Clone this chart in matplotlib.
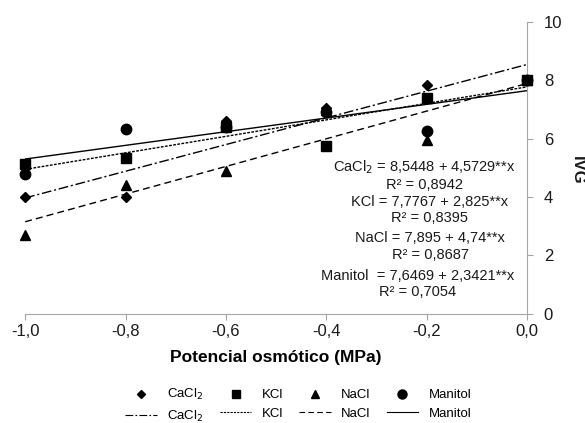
import numpy as np
import matplotlib
matplotlib.use('Agg')
import matplotlib.pyplot as plt
from matplotlib.lines import Line2D

plt.rcParams['font.family'] = ['Liberation Sans', 'DejaVu Sans']

##### data #####

potencial = [-1.0, -0.8, -0.6, -0.4, -0.2, 0.0]

ivg_cacl2 = [4.0, 4.0, 6.6, 7.05, 7.85, 8.0]
ivg_kcl = [5.15, 5.35, 6.4, 5.75, 7.4, 8.0]
ivg_nacl = [2.7, 4.4, 4.9, 7.0, 5.95, 8.0]
ivg_manitol = [4.8, 6.35, 6.4, 6.9, 6.25, 8.0]

# regression coefficients printed on the chart (y = a + b*x)
intercepts = [8.5448, 7.7767, 7.895, 7.6469]
slopes = [4.5729, 2.825, 4.74, 2.3421]
r2_values = ['0,8942', '0,8395', '0,8687', '0,7054']

series_names = ['CaCl$_2$', 'KCl', 'NaCl', 'Manitol']
equation_names = ['CaCl$_2$', 'KCl', 'NaCl', 'Manitol ']

xtick_values = [-1.0, -0.8, -0.6, -0.4, -0.2, 0.0]
xtick_labels = ['-1,0', '-0,8', '-0,6', '-0,4', '-0,2', '0,0']
ytick_values = [0, 2, 4, 6, 8, 10]

##### plot #####

fig = plt.figure(figsize=(5.85, 4.23), dpi=100)
ax = fig.add_axes([0.043, 0.258, 0.858, 0.69])

series = [ivg_cacl2, ivg_nacl, ivg_manitol, ivg_kcl]
markers = ['D', '^', 'o', 's']
msizes = [5, 7, 7.5, 7.5]
styles = [(0, (7, 2, 1.5, 2)), (0, (2, 1)), (0, (5, 3)), '-']

xx = np.array([potencial[0], potencial[-1]])
# markers (KCl drawn last so its square sits on top at x=0)
for vals, m, ms in zip(series, markers, msizes):
    ax.plot(potencial, vals, linestyle='none', marker=m, markersize=ms,
            color='black', clip_on=False, zorder=3)
for a, b, ls in zip(intercepts, slopes, styles):
    ax.plot(xx, a + b * xx, linestyle=ls, color='black', lw=1.0)

# equations
eq_pos = [(-0.205, 4.76), (-0.195, 3.56), (-0.193, 2.31), (-0.219, 1.02)]
for name, a, b, r2, (px, py) in zip(equation_names, intercepts, slopes,
                                    r2_values, eq_pos):
    txt = '%s = %s + %s**x\nR² = %s' % (name, str(a).replace('.', ','),
                                        str(b).replace('.', ','), r2)
    ax.text(px, py, txt, ha='center', va='center', multialignment='center',
            fontsize=10.5, color='#1a1a1a', linespacing=1.2)

ax.set_xlim(-1.0, 0.0)
ax.set_ylim(0, 10)
ax.set_xticks(xtick_values)
ax.set_xticklabels(xtick_labels)
ax.set_yticks(ytick_values)

for s in ['top', 'left']:
    ax.spines[s].set_visible(False)
ax.spines['bottom'].set_color('#a6a6a6')
ax.spines['right'].set_color('#a6a6a6')
ax.yaxis.tick_right()
ax.tick_params(colors='#a6a6a6', labelcolor='#1a1a1a', labelsize=12,
               length=4, direction='out')
ax.tick_params(axis='y', pad=8)

ax.set_xlabel('Potencial osmótico (MPa)', fontsize=12.5, weight='bold',
              labelpad=8)
fig.text(577 / 585, 1 - 170 / 423, 'IVG', fontsize=12, weight='bold',
         rotation=270, ha='center', va='center', color='#1a1a1a')

# legend: markers on first row, lines on second row
handles = []
labels = []
leg_markers = ['D', 's', '^', 'o']
leg_sizes = [4, 6, 6, 6.5]
for name, m, ms, ls in zip(series_names, leg_markers, leg_sizes, styles):
    handles.append(Line2D([], [], linestyle='none', marker=m,
                          markersize=ms, color='black'))
    labels.append(name)
    handles.append(Line2D([], [], linestyle=ls, color='black', lw=0.8))
    labels.append(name)

fig.legend(handles, labels, ncol=4, loc='center', bbox_to_anchor=(0.51, 0.041),
           frameon=False, fontsize=9.5, handlelength=2.4, columnspacing=1.2,
           labelspacing=0.5, handletextpad=0.8)

plt.savefig('out.png', dpi=100)
